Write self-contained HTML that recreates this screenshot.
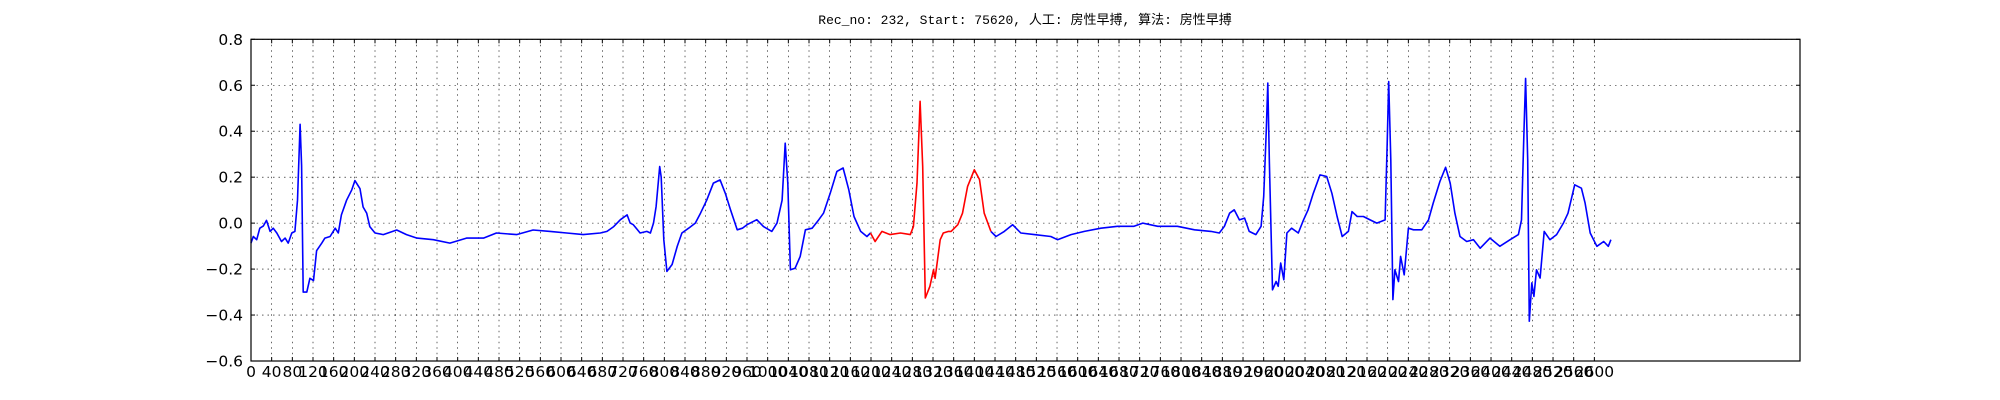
<!DOCTYPE html>
<html><head><meta charset="utf-8"><style>
html,body{margin:0;padding:0;background:#fff;}
svg{display:block;}
</style></head><body>
<svg id="chart" width="2000" height="400" xmlns="http://www.w3.org/2000/svg">
<rect x="0" y="0" width="2000" height="400" fill="#fff"/>
<text x="1025" y="24" text-anchor="middle" font-family="'Liberation Mono','Noto Sans CJK SC',monospace" font-size="13" fill="#000">Rec_no: 232, Start: 75620, 人工: 房性早搏, 算法: 房性早搏</text>
<g id="grid"></g>
<g id="series"></g>
<g id="axes"></g>
</svg>
<script>
const samples = [0,4.5,11,17,24,30,37,43,50,59,66,72,79,85,90,95,98,101,108,114,121,127,137,143,153,163,169,175,185,195,201,211,217,224,230,240,256,282,301,321,353,385,417,450,475,514,546,579,611,643,676,689,702,715,728,734,740,753,766,773,779,784,791,794,799,805,815,825,834,847,860,870,882,895,908,918,928,941,951,960,979,992,1008,1018,1028,1034,1039,1044,1053,1063,1073,1086,1099,1108,1121,1134,1146,1157,1167,1180,1192,1199,1208,1221,1237,1257,1276,1282,1289,1295,1300,1305,1314,1321,1324,1334,1340,1350,1355,1368,1377,1387,1400,1410,1419,1432,1442,1458,1474,1490,1516,1548,1561,1587,1613,1645,1677,1709,1726,1755,1793,1826,1858,1874,1884,1894,1903,1913,1923,1932,1945,1955,1960,1965,1968,1971,1977,1984,1988,1993,1999,2005,2014,2027,2037,2046,2056,2069,2082,2092,2102,2112,2124,2131,2141,2153,2166,2179,2195,2199,2202,2206,2210,2214,2221,2225,2232,2240,2250,2266,2279,2288,2301,2312,2321,2330,2340,2353,2366,2379,2398,2417,2437,2453,2459,2464,2467,2471,2474,2479,2483,2488,2495,2503,2514,2527,2540,2549,2562,2575,2582,2592,2605,2618,2627,2632];
const values = [-0.087,-0.058,-0.072,-0.022,-0.012,0.012,-0.036,-0.022,-0.043,-0.08,-0.065,-0.087,-0.043,-0.036,0.10,0.43,0.25,-0.30,-0.30,-0.24,-0.25,-0.12,-0.087,-0.065,-0.058,-0.022,-0.043,0.036,0.10,0.145,0.185,0.15,0.07,0.043,-0.015,-0.043,-0.05,-0.03,-0.05,-0.065,-0.072,-0.087,-0.065,-0.065,-0.043,-0.05,-0.03,-0.036,-0.043,-0.05,-0.043,-0.036,-0.015,0.015,0.036,0,-0.007,-0.043,-0.036,-0.043,0,0.072,0.246,0.2,-0.072,-0.21,-0.18,-0.10,-0.043,-0.022,0,0.043,0.10,0.174,0.188,0.13,0.058,-0.029,-0.022,-0.007,0.015,-0.015,-0.036,0,0.10,0.348,0.174,-0.203,-0.196,-0.145,-0.029,-0.022,0.015,0.043,0.13,0.225,0.24,0.145,0.029,-0.036,-0.058,-0.043,-0.08,-0.036,-0.05,-0.043,-0.05,-0.015,0.174,0.53,0.246,-0.326,-0.275,-0.203,-0.24,-0.072,-0.043,-0.036,-0.036,-0.007,0.043,0.16,0.232,0.19,0.043,-0.036,-0.058,-0.036,-0.007,-0.043,-0.05,-0.058,-0.072,-0.05,-0.036,-0.022,-0.014,-0.014,0,-0.014,-0.014,-0.029,-0.036,-0.043,-0.014,0.043,0.058,0.014,0.022,-0.036,-0.05,-0.014,0.116,0.406,0.61,0.26,-0.29,-0.254,-0.275,-0.174,-0.246,-0.043,-0.022,-0.043,0.014,0.058,0.13,0.21,0.203,0.13,0.029,-0.058,-0.036,0.05,0.029,0.029,0.014,0,0.014,0.348,0.616,0.275,-0.333,-0.203,-0.254,-0.145,-0.225,-0.022,-0.029,-0.029,0.014,0.087,0.181,0.243,0.174,0.043,-0.058,-0.08,-0.072,-0.109,-0.065,-0.101,-0.072,-0.05,0.014,0.42,0.63,0.275,-0.427,-0.26,-0.319,-0.203,-0.239,-0.036,-0.072,-0.05,0,0.043,0.167,0.152,0.087,-0.043,-0.101,-0.08,-0.101,-0.072];
const redStart = 1197;
const redEnd = 1435;
const xTicks = [];
for (let t = 0; t <= 2600; t += 40) xTicks.push(t);
const yTicks = [-0.6,-0.4,-0.2,0.0,0.2,0.4,0.6,0.8];
const yTickLabels = ["\u22120.6","\u22120.4","\u22120.2","0.0","0.2","0.4","0.6","0.8"];

const L=251, R=1800, T=39.3, B=361;
const xMin=0, xMax=2998, yMin=-0.6, yMax=0.8;
const X = v => L + (v-xMin)/(xMax-xMin)*(R-L);
const Y = v => B - (v-yMin)/(yMax-yMin)*(B-T);
const NS="http://www.w3.org/2000/svg";
function mk(tag, attrs, parent){const e=document.createElementNS(NS,tag);for(const k in attrs)e.setAttribute(k,attrs[k]);parent.appendChild(e);return e;}
const grid=document.getElementById('grid'), series=document.getElementById('series'), axes=document.getElementById('axes');

xTicks.forEach(t=>{
  const x=X(t);
  const g=mk('line',{x1:x,x2:x,y1:T,y2:B,stroke:'#000','stroke-width':0.6,'stroke-dasharray':'1.5,4'},grid);
  
  
  const tb=mk('line',{x1:x,x2:x,y1:B,y2:B-4,stroke:'#000','stroke-width':1},axes);
  
  
  const tt=mk('line',{x1:x,x2:x,y1:T,y2:T+4,stroke:'#000','stroke-width':1},axes);
  
  
  const lb=mk('text',{x:x,y:377,'text-anchor':'middle','font-family':"'DejaVu Sans','Liberation Sans',sans-serif",'font-size':15.5,fill:'#000'},axes);
  lb.textContent=String(t);
  
  
});
yTicks.forEach((v,i)=>{
  const y=Y(v);
  const g=mk('line',{x1:L,x2:R,y1:y,y2:y,stroke:'#000','stroke-width':0.6,'stroke-dasharray':'1.5,4'},grid);
  
  
  const tl=mk('line',{x1:L,x2:L+4,y1:y,y2:y,stroke:'#000','stroke-width':1},axes);
  
  
  const tr=mk('line',{x1:R,x2:R-4,y1:y,y2:y,stroke:'#000','stroke-width':1},axes);
  
  
  const lb=mk('text',{x:L-8,y:y+5.5,'text-anchor':'end','font-family':"'DejaVu Sans','Liberation Sans',sans-serif",'font-size':15.5,fill:'#000'},axes);
  lb.textContent=yTickLabels[i];
  
  
});
const frame=mk('rect',{x:L,y:T,width:R-L,height:B-T,fill:'none',stroke:'#000','stroke-width':1.2},axes);



let i1 = samples.findIndex(s=>s>=redStart); if(i1<0) i1=samples.length-1;
let i2 = i1; for(let i=0;i<samples.length;i++){ if(samples[i]<=redEnd) i2=i; }
function seg(a,b,color,name){
  const pts=[];
  for(let i=a;i<=b;i++){ pts.push(X(samples[i]).toFixed(1)+','+Y(values[i]).toFixed(1)); }
  const p=mk('polyline',{points:pts.join(' '),fill:'none',stroke:color,'stroke-width':1.6,'stroke-linejoin':'round'},series);
  
  
}
seg(0,i1,'#0000ff','ecg-line-before');
seg(i2,samples.length-1,'#0000ff','ecg-line-after');
seg(i1,i2,'#ff0000','ecg-line-highlight');
</script>
</body></html>
